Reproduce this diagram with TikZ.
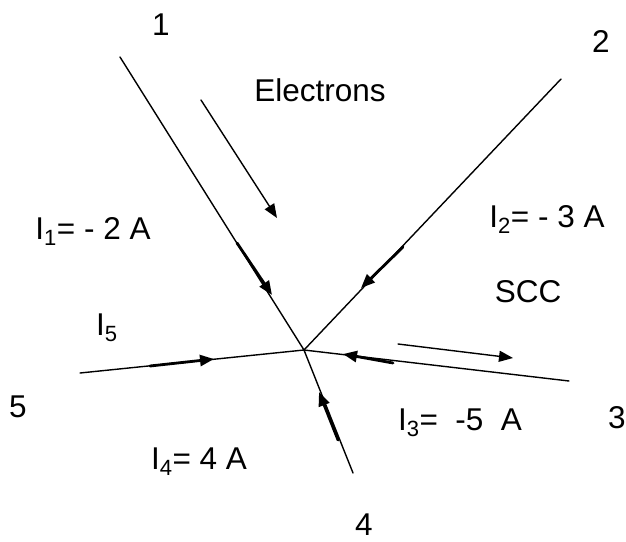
\documentclass[tikz,border=0pt]{standalone}
\usepackage{fontspec}
\setmainfont{Liberation Sans}
\usetikzlibrary{arrows.meta}

\begin{document}
\begin{tikzpicture}[
		x=1pt, y=-1pt,
		line join=round,
		line cap=round,
		font=\fontsize{31.5}{36}\selectfont,
		>={Triangle[length=14pt,width=11pt]},
		wire/.style={black, line width=1.4pt},
		heavy/.style={black, line width=2.8pt, ->},
		lab/.style={anchor=base, inner sep=0pt}
	]
	
	\useasboundingbox (0,0) rectangle (626,541);
	
	% Junction and wire ends
	\coordinate (J) at (304,350);
	\coordinate (W1) at (120,57);
	\coordinate (W2) at (561,79);
	\coordinate (W3) at (569,381);
	\coordinate (W4) at (353,473);
	\coordinate (W5) at (80,373);
	
	% Heavy parts before the arrow heads
	\coordinate (H1a) at (237,243);
	\coordinate (H1b) at (272,295);
	\coordinate (H2a) at (403,247);
	\coordinate (H2b) at (361,288);
	\coordinate (H3a) at (393,363);
	\coordinate (H3b) at (343,354);
	\coordinate (H4a) at (338,440);
	\coordinate (H4b) at (319,392);
	\coordinate (H5a) at (150,366);
	\coordinate (H5b) at (214,359);
	
	% Flow arrows
	\coordinate (E0) at (201,100);
	\coordinate (E1) at (277,218);
	\coordinate (S0) at (398,344);
	\coordinate (S1) at (513,358);
	
	% Wires
	\foreach \w in {1,...,5} {
		\draw[wire] (W\w) -- (J);
	}
	\foreach \w in {1,...,5} {
		\draw[heavy] (H\w a) -- (H\w b);
	}
	
	\draw[wire, ->] (E0) -- (E1);
	\draw[wire, ->] (S0) -- (S1);
	
	% Wire numbers
	\node[lab] (n1) at (161,35) {1};
	\node[lab] (n2) at (601,52) {2};
	\node[lab] (n3) at (617,428) {3};
	\node[lab] (n4) at (364,535) {4};
	\node[lab] (n5) at (18,417) {5};
	
	% Currents
	\node[lab] (i1) at (93,239) {I\textsubscript{1}= - 2 A};
	\node[lab] (i2) at (547,227) {I\textsubscript{2}= - 3 A};
	\node[lab] (i3) at (460,430) {I\textsubscript{3}= \ -5 \ A};
	\node[lab] (i4) at (199,469) {I\textsubscript{4}= 4 A};
	\node[lab] (i5) at (107,335) {I\textsubscript{5}};
	
	% Other labels
	\node[lab] (el) at (320,101) {Electrons};
	\node[lab] (scc) at (528,302) {SCC};
	
\end{tikzpicture}
\end{document}
